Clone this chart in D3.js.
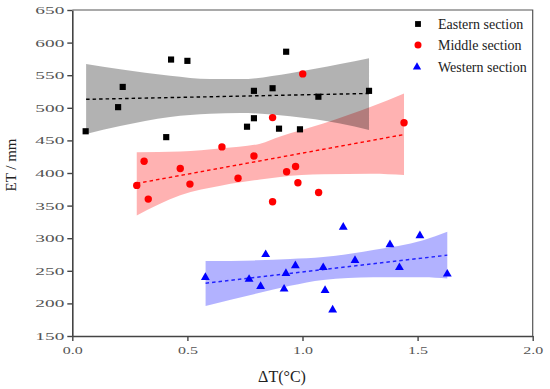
<!DOCTYPE html>
<html>
<head>
<meta charset="utf-8">
<script src="https://cdn.jsdelivr.net/npm/d3@7"></script>
<style>
  body { margin: 0; background: #fff; }
  svg { display: block; }
</style>
</head>
<body>
<div id="grafiek"></div>
<script>

// meetpunten per sectie (dT in graden C, ET in mm)
var oostX = [0.058, 0.199, 0.219, 0.408, 0.429, 0.500, 0.759, 0.789, 0.789, 0.870, 0.898, 0.929, 0.989, 1.069, 1.289];
var oostY = [464, 501, 532, 455, 574, 572, 471, 484, 526, 530, 468, 586, 467, 517, 526];

var middenX = [0.280, 0.312, 0.330, 0.469, 0.511, 0.650, 0.720, 0.789, 0.870, 0.870, 0.931, 0.970, 0.980, 1.001, 1.070, 1.441];
var middenY = [381, 418, 360, 407, 383, 440, 392, 426, 485, 356, 402, 410, 385, 552, 370, 477];

var westX = [0.578, 0.768, 0.818, 0.840, 0.920, 0.928, 0.969, 1.090, 1.098, 1.131, 1.177, 1.228, 1.380, 1.421, 1.510, 1.629];
var westY = [240, 237, 226, 275, 222, 246, 258, 255, 220, 190, 317, 266, 290, 255, 304, 245];

// trendlijnen (begin en eind)
var oostLijnX = [0.060, 1.289];
var oostLijnY = [513, 522];
var middenLijnX = [0.280, 1.441];
var middenLijnY = [384, 459];
var westLijnX = [0.579, 1.629];
var westLijnY = [231, 274];

// betrouwbaarheidsbanden
var oostBandX = [0.060, 0.208, 0.425, 0.599, 0.730, 0.946, 1.163, 1.289];
var oostBandHoog = [567, 559, 549, 544, 544, 553, 567, 576];
var oostBandLaag = [460, 472, 486, 491, 492, 487, 476, 466];

var middenBandX = [0.280, 0.469, 0.650, 0.816, 0.903, 1.090, 1.300, 1.441];
var middenBandHoog = [432, 433, 438, 445, 456, 476, 502, 522];
var middenBandLaag = [335, 366, 381, 390, 394, 398, 399, 397];

var westBandX = [0.579, 0.801, 0.946, 1.090, 1.307, 1.524, 1.629];
var westBandHoog = [265, 266, 268, 271, 282, 297, 310];
var westBandLaag = [196, 215, 227, 236, 240, 240, 238];

var yTicks = [150, 200, 250, 300, 350, 400, 450, 500, 550, 600, 650];
var xTicks = [0, 0.5, 1.0, 1.5, 2.0];
var legendaNamen = ["Eastern section", "Middle section", "Western section"];

var breedte = 550, hoogte = 389;
var marge = {boven: 10, rechts: 17.3, beneden: 53, links: 72.3};

var svg = d3.select("#grafiek")
            .append("svg")
            .attr("width", breedte)
            .attr("height", hoogte);

var x = d3.scaleLinear().domain([0, 2]).range([marge.links, breedte - marge.rechts]);
var y = d3.scaleLinear().domain([150, 650]).range([hoogte - marge.beneden, marge.boven]);

// banden tekenen
function band(bx, hoog, laag, kleur) {
  var rijen = bx.map(function(d, i) { return {x: d, hoog: hoog[i], laag: laag[i]}; });
  var vlak = d3.area()
               .x(function(d) { return x(d.x); })
               .y0(function(d) { return y(d.laag); })
               .y1(function(d) { return y(d.hoog); })
               .curve(d3.curveMonotoneX);
  svg.append("path")
     .datum(rijen)
     .attr("d", vlak)
     .attr("fill", kleur)
     .attr("fill-opacity", 0.3);
}
band(middenBandX, middenBandHoog, middenBandLaag, "#ff0000");
band(westBandX, westBandHoog, westBandLaag, "#0000ff");
band(oostBandX, oostBandHoog, oostBandLaag, "#000000");

// trendlijnen
function lijn(lx, ly, kleur) {
  svg.append("line")
     .attr("x1", x(lx[0])).attr("y1", y(ly[0]))
     .attr("x2", x(lx[1])).attr("y2", y(ly[1]))
     .attr("stroke", kleur)
     .attr("stroke-width", 1.4)
     .attr("stroke-dasharray", "3.5,3");
}
lijn(oostLijnX, oostLijnY, "#000000");
lijn(middenLijnX, middenLijnY, "#ff0000");
lijn(westLijnX, westLijnY, "#2222ff");

// punten
var vierkant = d3.symbol().type(d3.symbolSquare).size(38);
var driehoek = d3.symbol().type(d3.symbolTriangle).size(34);

svg.append("g").selectAll("path")
   .data(oostX)
   .enter().append("path")
   .attr("d", vierkant)
   .attr("transform", function(d, i) { return "translate(" + x(d) + "," + y(oostY[i]) + ")"; })
   .attr("fill", "#000");

svg.append("g").selectAll("circle")
   .data(middenX)
   .enter().append("circle")
   .attr("cx", function(d) { return x(d); })
   .attr("cy", function(d, i) { return y(middenY[i]); })
   .attr("r", 3.7)
   .attr("fill", "#ff0000");

svg.append("g").selectAll("path")
   .data(westX)
   .enter().append("path")
   .attr("d", driehoek)
   .attr("transform", function(d, i) { return "translate(" + x(d) + "," + y(westY[i]) + ")"; })
   .attr("fill", "#0000ff");

// assen
var yAs = svg.append("g")
             .attr("transform", "translate(" + marge.links + ",0)")
             .call(d3.axisLeft(y).tickValues(yTicks).tickSize(5).tickSizeOuter(0).tickPadding(3));

var xAs = svg.append("g")
             .attr("transform", "translate(0," + (hoogte - marge.beneden) + ")")
             .call(d3.axisBottom(x).tickValues(xTicks).tickFormat(d3.format(".1f")).tickSize(5).tickSizeOuter(0).tickPadding(5));

[yAs, xAs].forEach(function(as) {
  as.select(".domain").attr("stroke", "#444").attr("stroke-width", 1.6);
  as.selectAll(".tick line").attr("stroke", "#444").attr("stroke-width", 1.4);
  as.selectAll(".tick text")
    .attr("fill", "#555")
    .style("font-family", "'Liberation Serif', serif")
    .style("font-size", "11px");
});
yAs.selectAll(".tick text").attr("textLength", 29).attr("lengthAdjust", "spacingAndGlyphs");
xAs.selectAll(".tick text").attr("textLength", 20).attr("lengthAdjust", "spacingAndGlyphs");

// kader boven en rechts
svg.append("path")
   .attr("d", "M" + marge.links + "," + marge.boven + "H" + (breedte - marge.rechts) + "V" + (hoogte - marge.beneden))
   .attr("fill", "none")
   .attr("stroke", "#555")
   .attr("stroke-width", 1.2);

// astitels
svg.append("text")
   .attr("transform", "translate(16,165) rotate(-90)")
   .attr("text-anchor", "middle")
   .style("font-family", "'Liberation Serif', serif")
   .style("font-size", "15px")
   .attr("fill", "#222")
   .text("ET / mm");

svg.append("text")
   .attr("x", 282)
   .attr("y", 382)
   .attr("text-anchor", "middle")
   .style("font-family", "'Liberation Serif', serif")
   .style("font-size", "16px")
   .attr("fill", "#222")
   .text("ΔT(°C)");

// legenda
var legenda = svg.append("g").attr("class", "legend");
var legY = [24, 45, 67];

legenda.append("path").attr("d", d3.symbol().type(d3.symbolSquare).size(34)())
       .attr("transform", "translate(418," + legY[0] + ")").attr("fill", "#000");
legenda.append("circle").attr("cx", 418).attr("cy", legY[1]).attr("r", 3.5).attr("fill", "#ff0000");
legenda.append("path").attr("d", d3.symbol().type(d3.symbolTriangle).size(30)())
       .attr("transform", "translate(417," + legY[2] + ")").attr("fill", "#0000ff");

legenda.selectAll("text")
       .data(legendaNamen)
       .enter().append("text")
       .attr("x", 438)
       .attr("y", function(d, i) { return legY[i] + 4.5; })
       .style("font-family", "'Liberation Serif', serif")
       .style("font-size", "14px")
       .attr("fill", "#222")
       .text(function(d) { return d; });
</script>
</body>
</html>
